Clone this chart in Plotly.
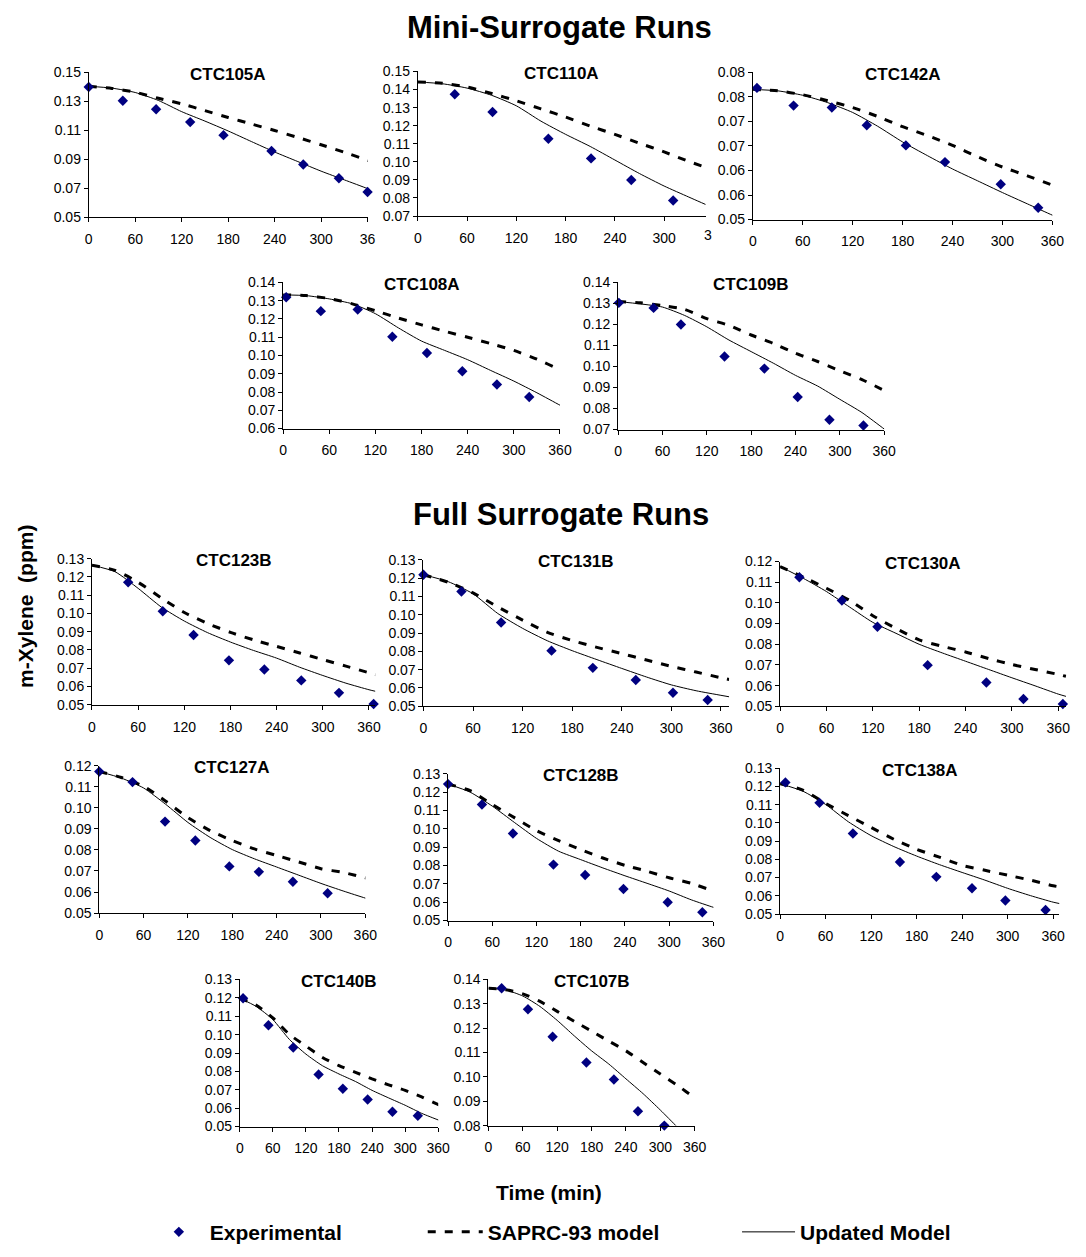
import plotly.graph_objects as go

W, H = 1086, 1257
FONT = "Liberation Sans, Arial, sans-serif"

# model output times (min)
MODEL_T = [0, 30, 60, 90, 120, 150, 180, 210, 240, 270, 300, 330, 360, 370]
X_TICKS = [0, 60, 120, 180, 240, 300, 360]

# ---- Mini-surrogate runs ----
ctc105a_t = [0, 44, 87, 131, 174, 236, 277, 323, 360]
ctc105a_exp = [0.1398, 0.1303, 0.1244, 0.1156, 0.1066, 0.0957, 0.0864, 0.0769, 0.0674]
ctc105a_saprc = [0.1403, 0.1388, 0.1362, 0.1320, 0.1282, 0.1235, 0.1188, 0.1143, 0.1098, 0.1050, 0.1000, 0.0948, 0.0893, 0.0872]
ctc105a_upd = [0.1403, 0.1390, 0.1360, 0.1305, 0.1228, 0.1163, 0.1095, 0.1022, 0.0950, 0.0884, 0.0818, 0.0758, 0.0698, 0.0678]

ctc110a_t = [45, 91, 159, 211, 260, 311]
ctc110a_exp = [0.1374, 0.1276, 0.1128, 0.1019, 0.0899, 0.0786]
ctc110a_saprc = [0.1442, 0.1435, 0.1414, 0.1378, 0.1338, 0.1293, 0.1248, 0.1198, 0.1152, 0.1103, 0.1055, 0.1002, 0.0955, 0.0940]
ctc110a_upd = [0.1442, 0.1432, 0.1408, 0.1368, 0.1310, 0.1225, 0.1152, 0.1085, 0.1010, 0.0935, 0.0866, 0.0805, 0.0745, 0.0725]

ctc142a_t = [5, 49, 95, 137, 184, 231, 298, 343]
ctc142a_exp = [0.0768, 0.0732, 0.0728, 0.0692, 0.0651, 0.0617, 0.0572, 0.0524]
ctc142a_saprc = [0.0765, 0.0762, 0.0754, 0.0742, 0.0728, 0.0710, 0.0689, 0.0671, 0.0651, 0.0628, 0.0607, 0.0589, 0.0570, 0.0564]
ctc142a_upd = [0.0765, 0.0762, 0.0753, 0.0738, 0.0718, 0.0690, 0.0658, 0.0630, 0.0603, 0.0579, 0.0555, 0.0532, 0.0509, 0.0502]

ctc108a_t = [4, 49, 97, 142, 187, 233, 278, 320]
ctc108a_exp = [0.1319, 0.1243, 0.1252, 0.1103, 0.1014, 0.0914, 0.0841, 0.0773]
ctc108a_saprc = [0.1332, 0.1328, 0.1312, 0.1283, 0.1245, 0.1205, 0.1168, 0.1133, 0.1100, 0.1065, 0.1028, 0.0980, 0.0922, 0.0902]
ctc108a_upd = [0.1332, 0.1328, 0.1310, 0.1283, 0.1229, 0.1151, 0.1079, 0.1028, 0.0977, 0.0918, 0.0860, 0.0796, 0.0728, 0.0706]

ctc109b_t = [1, 48, 85, 144, 198, 243, 286, 332]
ctc109b_exp = [0.1303, 0.1279, 0.1200, 0.1048, 0.0990, 0.0855, 0.0747, 0.0719]
ctc109b_saprc = [0.1309, 0.1303, 0.1290, 0.1272, 0.1228, 0.1196, 0.1150, 0.1110, 0.1063, 0.1024, 0.0980, 0.0938, 0.0886, 0.0870]
ctc109b_upd = [0.1309, 0.1298, 0.1283, 0.1243, 0.1189, 0.1126, 0.1071, 0.1016, 0.0958, 0.0907, 0.0844, 0.0781, 0.0703, 0.0678]

# ---- Full surrogate runs ----
ctc123b_t = [47, 92, 132, 178, 224, 272, 321, 366]
ctc123b_exp = [0.1170, 0.1012, 0.0882, 0.0743, 0.0693, 0.0633, 0.0565, 0.0504]
ctc123b_saprc = [0.1264, 0.1236, 0.1170, 0.1085, 0.1005, 0.0945, 0.0896, 0.0855, 0.0819, 0.0783, 0.0747, 0.0711, 0.0675, 0.0664]
ctc123b_upd = [0.1264, 0.1228, 0.1137, 0.1035, 0.0958, 0.0895, 0.0843, 0.0797, 0.0755, 0.0705, 0.0660, 0.0618, 0.0582, 0.0572]

ctc131b_t = [0, 46, 94, 155, 205, 257, 302, 344]
ctc131b_exp = [0.1219, 0.1127, 0.0958, 0.0804, 0.0710, 0.0644, 0.0574, 0.0534]
ctc131b_saprc = [0.1219, 0.1178, 0.1120, 0.1043, 0.0971, 0.0904, 0.0859, 0.0822, 0.0788, 0.0753, 0.0718, 0.0687, 0.0656, 0.0646]
ctc131b_upd = [0.1219, 0.1181, 0.1115, 0.1007, 0.0926, 0.0858, 0.0804, 0.0755, 0.0707, 0.0660, 0.0617, 0.0585, 0.0560, 0.0552]

ctc130a_t = [25, 80, 126, 191, 267, 315, 366]
ctc130a_exp = [0.1124, 0.1012, 0.0885, 0.0699, 0.0615, 0.0535, 0.0511]
ctc130a_saprc = [0.1176, 0.1125, 0.1071, 0.1012, 0.0938, 0.0877, 0.0821, 0.0790, 0.0763, 0.0731, 0.0702, 0.0678, 0.0654, 0.0645]
ctc130a_upd = [0.1176, 0.1119, 0.1055, 0.0980, 0.0906, 0.0853, 0.0800, 0.0758, 0.0718, 0.0678, 0.0638, 0.0599, 0.0559, 0.0548]

ctc127a_t = [0, 45, 89, 130, 176, 216, 262, 309]
ctc127a_exp = [0.1173, 0.1123, 0.0935, 0.0845, 0.0722, 0.0696, 0.0649, 0.0594]
ctc127a_saprc = [0.1173, 0.1145, 0.1103, 0.1032, 0.0954, 0.0892, 0.0845, 0.0805, 0.0774, 0.0743, 0.0711, 0.0693, 0.0668, 0.0660]
ctc127a_upd = [0.1173, 0.1142, 0.1095, 0.1017, 0.0931, 0.0860, 0.0802, 0.0758, 0.0719, 0.0680, 0.0641, 0.0605, 0.0571, 0.0560]

ctc128b_t = [0, 46, 88, 143, 186, 238, 298, 345]
ctc128b_exp = [0.1244, 0.1133, 0.0975, 0.0805, 0.0748, 0.0672, 0.0600, 0.0545]
ctc128b_saprc = [0.1244, 0.1208, 0.1133, 0.1061, 0.0990, 0.0936, 0.0887, 0.0841, 0.0801, 0.0769, 0.0733, 0.0703, 0.0661, 0.0650]
ctc128b_upd = [0.1244, 0.1200, 0.1124, 0.1035, 0.0948, 0.0878, 0.0832, 0.0787, 0.0744, 0.0703, 0.0661, 0.0613, 0.0572, 0.0560]

ctc138a_t = [7, 52, 96, 158, 206, 253, 297, 350]
ctc138a_exp = [0.1222, 0.1110, 0.0942, 0.0785, 0.0704, 0.0641, 0.0574, 0.0522]
ctc138a_saprc = [0.1215, 0.1180, 0.1107, 0.1040, 0.0975, 0.0910, 0.0855, 0.0812, 0.0767, 0.0740, 0.0713, 0.0686, 0.0655, 0.0648]
ctc138a_upd = [0.1215, 0.1174, 0.1101, 0.1006, 0.0930, 0.0870, 0.0818, 0.0771, 0.0728, 0.0686, 0.0641, 0.0601, 0.0565, 0.0556]

ctc140b_t = [6, 52, 97, 143, 187, 232, 277, 323]
ctc140b_exp = [0.1198, 0.1051, 0.0930, 0.0783, 0.0706, 0.0647, 0.0581, 0.0559]
ctc140b_saprc = [0.1198, 0.1160, 0.1091, 0.1001, 0.0938, 0.0876, 0.0831, 0.0795, 0.0759, 0.0727, 0.0697, 0.0661, 0.0620, 0.0610]
ctc140b_upd = [0.1198, 0.1153, 0.1082, 0.0974, 0.0894, 0.0831, 0.0786, 0.0745, 0.0697, 0.0656, 0.0616, 0.0572, 0.0536, 0.0525]

ctc107b_t = [23, 69, 112, 171, 219, 261, 307]
ctc107b_exp = [0.1364, 0.1278, 0.1165, 0.1059, 0.0989, 0.0859, 0.0800]
ctc107b_saprc = [0.1364, 0.1358, 0.1341, 0.1310, 0.1269, 0.1228, 0.1188, 0.1147, 0.1107, 0.1059, 0.1012, 0.0965, 0.0914, 0.0897]
ctc107b_upd = [0.1364, 0.1357, 0.1332, 0.1289, 0.1232, 0.1168, 0.1107, 0.1053, 0.0992, 0.0931, 0.0864, 0.0793, 0.0720, 0.0695]

# tick labels of the CTC142A concentration axis (0.005 steps, two decimals)
ctc142a_ytext = ["0.05", "0.06", "0.06", "0.07", "0.07", "0.08", "0.08"]

PANELS = [
    ("CTC105A", ctc105a_t, ctc105a_exp, ctc105a_saprc, ctc105a_upd),
    ("CTC110A", ctc110a_t, ctc110a_exp, ctc110a_saprc, ctc110a_upd),
    ("CTC142A", ctc142a_t, ctc142a_exp, ctc142a_saprc, ctc142a_upd),
    ("CTC108A", ctc108a_t, ctc108a_exp, ctc108a_saprc, ctc108a_upd),
    ("CTC109B", ctc109b_t, ctc109b_exp, ctc109b_saprc, ctc109b_upd),
    ("CTC123B", ctc123b_t, ctc123b_exp, ctc123b_saprc, ctc123b_upd),
    ("CTC131B", ctc131b_t, ctc131b_exp, ctc131b_saprc, ctc131b_upd),
    ("CTC130A", ctc130a_t, ctc130a_exp, ctc130a_saprc, ctc130a_upd),
    ("CTC127A", ctc127a_t, ctc127a_exp, ctc127a_saprc, ctc127a_upd),
    ("CTC128B", ctc128b_t, ctc128b_exp, ctc128b_saprc, ctc128b_upd),
    ("CTC138A", ctc138a_t, ctc138a_exp, ctc138a_saprc, ctc138a_upd),
    ("CTC140B", ctc140b_t, ctc140b_exp, ctc140b_saprc, ctc140b_upd),
    ("CTC107B", ctc107b_t, ctc107b_exp, ctc107b_saprc, ctc107b_upd),
]

# plot-area boxes in pixels: left, right, top, bottom, x max, y min, y max, y step
GEOM = [
    (86, 369, 65, 212, 360, 0.05, 0.15, 0.02),
    (420, 712, 64.3, 210.7, 350.4, 0.07, 0.15, 0.01),
    (760, 1064, 65, 214.3, 360, 0.05, 0.08, 0.005),
    (283.3, 564.3, 278, 426, 360, 0.06, 0.14, 0.01),
    (623.3, 893.3, 278, 427, 360, 0.07, 0.14, 0.01),
    (89.3, 376.7, 557.7, 705.7, 368, 0.05, 0.13, 0.01),
    (425.7, 736, 559, 707.3, 370, 0.05, 0.13, 0.01),
    (787.7, 1078.3, 560.7, 707.3, 370.6, 0.05, 0.12, 0.01),
    (96.7, 366.7, 767.7, 916.7, 360, 0.05, 0.12, 0.01),
    (450.7, 720, 775.7, 924.3, 360, 0.05, 0.13, 0.01),
    (787.7, 1071, 770, 917.7, 368, 0.05, 0.13, 0.01),
    (239.3, 440.7, 984, 1133, 360, 0.05, 0.13, 0.01),
    (491.7, 701, 984, 1132, 360, 0.08, 0.14, 0.01),
]

NAVY = "#000080"
TICK_FONT = dict(family=FONT, size=14, color="black")


def px_x(v):
    return min(max(v / W, 0.0), 1.0)


def px_y(v):
    return min(max(1 - v / H, 0.0), 1.0)


fig = go.Figure()
layout = {}
annotations = []
n = len(PANELS)

for i, ((name, t, exp, sap, upd), g) in enumerate(zip(PANELS, GEOM), start=1):
    left, right, top, bottom, xmax, ymin, ymax, ystep = g
    xs = "x" if i == 1 else f"x{i}"
    ys = "y" if i == 1 else f"y{i}"
    first = i == 1

    fig.add_trace(go.Scatter(
        x=MODEL_T, y=sap, mode="lines", name="SAPRC-93 model",
        line=dict(color="black", width=3, dash="8px,9px", shape="spline", smoothing=0.6),
        xaxis=xs, yaxis=ys, showlegend=first, legend="legend2"))
    fig.add_trace(go.Scatter(
        x=MODEL_T, y=upd, mode="lines", name="Updated Model",
        line=dict(color="black", width=1, shape="spline", smoothing=0.6),
        xaxis=xs, yaxis=ys, showlegend=first, legend="legend3"))
    fig.add_trace(go.Scatter(
        x=t, y=exp, mode="markers", name="Experimental",
        marker=dict(symbol="diamond", size=8, color=NAVY, line=dict(width=0)),
        cliponaxis=False, xaxis=xs, yaxis=ys, showlegend=first, legend="legend"))

    nt = int(round((ymax - ymin) / ystep))
    yvals = [round(ymin + k * ystep, 4) for k in range(nt + 1)]
    ytext = ctc142a_ytext if name == "CTC142A" else [f"{v:.2f}" for v in yvals]
    xvals = [v for v in X_TICKS if v <= xmax + 0.5]
    xtext = [str(v) for v in xvals]
    if name == "CTC105A":
        xtext[-1] = "36"

    xdom = [px_x(left), px_x(right)]
    ydom = [px_y(bottom), px_y(top)]
    xkey = "xaxis" if i == 1 else f"xaxis{i}"
    ykey = "yaxis" if i == 1 else f"yaxis{i}"
    layout[xkey] = dict(
        domain=xdom, anchor=ys, range=[0, xmax], tickmode="array",
        tickvals=xvals, ticktext=xtext, ticks="outside", ticklen=4,
        tickcolor="black", showline=True, linecolor="black", linewidth=1,
        showgrid=False, zeroline=False, tickfont=TICK_FONT,
        ticklabelstandoff=5, fixedrange=True)
    layout[ykey] = dict(
        domain=ydom, anchor=xs, range=[ymin, ymax], tickmode="array",
        tickvals=yvals, ticktext=ytext, ticks="outside", ticklen=4,
        tickcolor="black", showline=True, linecolor="black", linewidth=1,
        showgrid=False, zeroline=False, tickfont=TICK_FONT, fixedrange=True)
    # upper halves of the crossing x tick marks
    layout[f"xaxis{n + i}"] = dict(
        domain=xdom, anchor=ys, overlaying=xs, range=[0, xmax],
        tickmode="array", tickvals=xvals, ticks="inside", ticklen=3,
        tickcolor="black", showticklabels=False, showline=False,
        showgrid=False, zeroline=False, fixedrange=True)

    annotations.append(dict(
        text=f"<b>{name}</b>", x=(xdom[0] + xdom[1]) / 2, y=px_y(top + 2),
        xref="paper", yref="paper", xanchor="center", yanchor="middle",
        showarrow=False, font=dict(family=FONT, size=17, color="black")))

# 360 label of CTC110A runs past the right edge of its panel
annotations.append(dict(
    text="3", x=px_x(708.5), y=px_y(210.7), xref="paper", yref="paper",
    xanchor="left", yanchor="top", yshift=-9, showarrow=False,
    font=TICK_FONT))

big = dict(family=FONT, size=31, color="black")
lab = dict(family=FONT, size=21, color="black")
annotations += [
    dict(text="<b>Mini-Surrogate Runs</b>", x=px_x(564), y=px_y(20),
         xref="paper", yref="paper", xanchor="center", yanchor="middle",
         showarrow=False, font=big),
    dict(text="<b>Full Surrogate Runs</b>", x=px_x(565), y=px_y(513),
         xref="paper", yref="paper", xanchor="center", yanchor="middle",
         showarrow=False, font=big),
    dict(text="<b>m-Xylene  (ppm)</b>", x=px_x(22), y=px_y(606),
         xref="paper", yref="paper", xanchor="center", yanchor="middle",
         textangle=-90, showarrow=False, font=lab),
    dict(text="<b>Time (min)</b>", x=px_x(553), y=px_y(1200),
         xref="paper", yref="paper", xanchor="center", yanchor="middle",
         showarrow=False, font=lab),
]

legend_font = dict(family=FONT, size=21, color="black", weight="bold")
common_leg = dict(xanchor="left", yanchor="middle", font=legend_font,
                  bgcolor="rgba(0,0,0,0)", borderwidth=0, orientation="h")

fig.update_layout(
    width=W, height=H, margin=dict(l=0, r=0, t=0, b=0),
    paper_bgcolor="white", plot_bgcolor="white",
    font=dict(family=FONT, color="black"),
    annotations=annotations,
    legend=dict(x=px_x(146), y=px_y(1240), itemwidth=52, **common_leg),
    legend2=dict(x=px_x(425), y=px_y(1240), itemwidth=55, **common_leg),
    legend3=dict(x=px_x(744), y=px_y(1240), itemwidth=53, **common_leg),
    **layout,
)

fig.write_html("out.html")
